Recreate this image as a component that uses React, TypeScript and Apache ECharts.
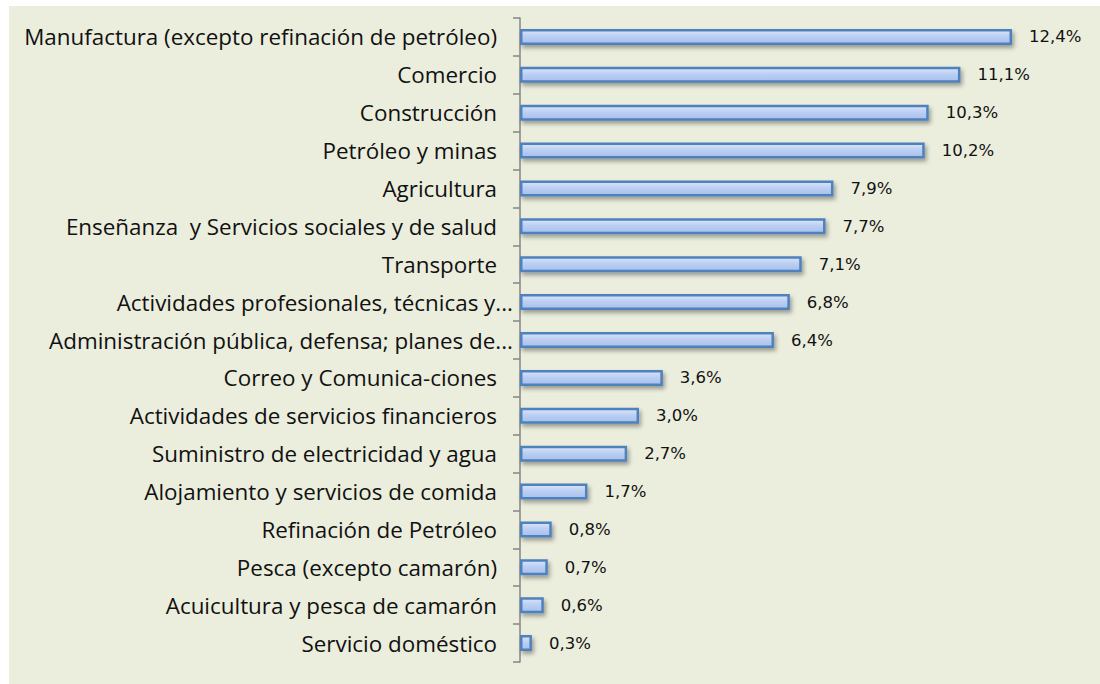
import React, { useEffect, useRef } from "react";
import * as echarts from "echarts";

const categories = [
  "Manufactura (excepto refinación de petróleo)",
  "Comercio",
  "Construcción",
  "Petróleo y minas",
  "Agricultura",
  "Enseñanza  y Servicios sociales y de salud",
  "Transporte",
  "Actividades profesionales, técnicas y...",
  "Administración pública, defensa; planes de...",
  "Correo y Comunica-ciones",
  "Actividades de servicios financieros",
  "Suministro de electricidad y agua",
  "Alojamiento y servicios de comida",
  "Refinación de Petróleo",
  "Pesca (excepto camarón)",
  "Acuicultura y pesca de camarón",
  "Servicio doméstico",
];

const values = [12.4, 11.1, 10.3, 10.2, 7.9, 7.7, 7.1, 6.8, 6.4, 3.6, 3.0, 2.7, 1.7, 0.8, 0.7, 0.6, 0.3];

export default function App() {
  const ref = useRef<HTMLDivElement>(null);
  useEffect(() => {
    const chart = echarts.init(ref.current!, undefined, { renderer: "svg" });
    chart.setOption({
      animation: false,
      backgroundColor: "#ffffff",
      graphic: [
        {
          type: "rect",
          z: -10,
          shape: { x: 9, y: 6, width: 1091, height: 678 },
          style: { fill: "#ebeedd" },
        },
      ],
      grid: { left: 520, top: 18, width: 555.5, height: 644 },
      xAxis: {
        type: "value",
        min: 0,
        max: 14,
        show: false,
      },
      yAxis: {
        type: "category",
        inverse: true,
        data: categories,
        axisLine: { show: true, lineStyle: { color: "#868686", width: 1.5 } },
        axisTick: { show: true, length: 7, lineStyle: { color: "#868686", width: 1.5 } },
        axisLabel: {
          margin: 7,
          formatter: (v: string) => (v.endsWith("...") ? `{t|${v}}` : `{n|${v}}`),
          rich: {
            n: {
              fontFamily: "Open Sans",
              fontSize: 22.4,
              color: "#111111",
              padding: [0, 16, 0, 0],
            },
            t: {
              fontFamily: "Open Sans",
              fontSize: 22.4,
              color: "#111111",
            },
          },
        },
      },
      series: [
        {
          type: "bar",
          data: values,
          barWidth: 16,
          itemStyle: {
            color: new echarts.graphic.LinearGradient(0, 0, 0, 1, [
              { offset: 0, color: "#d9e5f9" },
              { offset: 0.45, color: "#bccff3" },
              { offset: 1, color: "#a6c0ed" },
            ]),
            borderColor: "#4f81bd",
            borderWidth: 2.5,
            shadowColor: "rgba(0,0,0,0.35)",
            shadowBlur: 4,
            shadowOffsetX: 2,
            shadowOffsetY: 3,
          },
          label: {
            show: true,
            position: "right",
            distance: 17,
            fontFamily: "DejaVu Sans",
            fontSize: 16.5,
            color: "#111111",
            formatter: (p: any) => p.value.toFixed(1).replace(".", ",") + "%",
          },
        },
      ],
    });
    return () => chart.dispose();
  }, []);
  return (
    <div
      ref={ref}
      style={{ position: "absolute", left: 0, top: 0, width: 1100, height: 684 }}
    />
  );
}
